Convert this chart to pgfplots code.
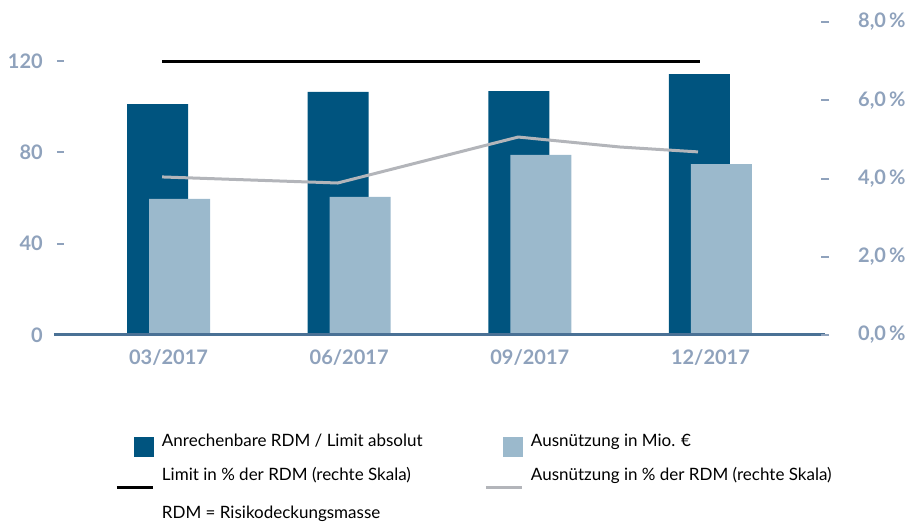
\documentclass[border=0pt]{standalone}
\usepackage{pgfplots}
\pgfplotsset{compat=1.18}
\usepackage{fontspec}
\setmainfont{Lato}
\definecolor{darkbar}{HTML}{00547F}
\definecolor{lightbar}{HTML}{9BB9CC}
\definecolor{ticktxt}{HTML}{8FA2BC}
\definecolor{axiscol}{HTML}{4A7195}
\definecolor{grayline}{HTML}{B3B5BA}
\pgfplotsset{
  base/.style={
    at={(54pt,187pt)}, anchor=south west,
    scale only axis, width=771pt, height=313pt,
    xmin=-0.634, xmax=3.634,
    /pgf/number format/assume math mode=true,
    yticklabel style={font=\bfseries\fontsize{20}{20}\selectfont, text=ticktxt, inner sep=0pt},
    xticklabel style={font=\bfseries\fontsize{20}{20}\selectfont, text=ticktxt, inner sep=0pt},
  }
}
\begin{document}
\begin{tikzpicture}
\useasboundingbox (0pt,0pt) rectangle (910pt,522pt);
\begin{axis}[base,
  ymin=0, ymax=137.14,
  axis x line*=bottom, axis y line*=left,
  x axis line style={draw=axiscol, line width=3pt, -},
  y axis line style={draw=none},
  xtick={0,1,2,3}, xticklabels={03/2017,06/2017,09/2017,12/2017},
  xtick style={draw=none},
  xticklabel style={yshift=-14pt},
  ytick={0,40,80,120},
  ytick style={draw=ticktxt, line width=2pt, xshift=3pt},
  tick align=inside, major tick length=7pt,
  yticklabel style={xshift=-11pt},
  axis on top,
]
\addplot[ybar, bar width=61pt, bar shift=-11pt, fill=darkbar, draw=none, forget plot]
  coordinates {(0,101.2) (1,106.5) (2,106.9) (3,114.3)};
\addplot[ybar, bar width=61pt, bar shift=11pt, fill=lightbar, draw=none, forget plot]
  coordinates {(0,59.6) (1,60.5) (2,78.9) (3,74.9)};
\end{axis}
\begin{axis}[base,
  ymin=0, ymax=8,
  axis x line=none, axis y line*=right,
  y axis line style={draw=none},
  ytick={0,2,4,6,8},
  ytick style={draw=ticktxt, line width=2pt},
  tick align=center, major tick length=8pt,
  yticklabel={\pgfmathprintnumber[fixed,fixed zerofill,precision=1,use comma]{\tick}\hspace{3pt}\%},
  yticklabel style={xshift=29pt},
  legend columns=2,
  legend cell align=left,
  legend style={at={(0.0817,-0.3217)}, anchor=north west, draw=none, fill=none,
    inner sep=0pt, outer sep=0pt, row sep=20pt, column sep=0pt,
    font=\fontsize{17}{17}\selectfont,
    nodes={inner sep=0pt, text height=11pt, text depth=3pt}},
]
\addlegendimage{legend image code/.code={\path[draw=none,fill=none] (0pt,-7pt) rectangle (45pt,7pt); \fill[darkbar, overlay] (17pt,-13.5pt) rectangle (36pt,5.5pt);}}
\addlegendentry{\makebox[324pt][l]{Anrechenbare RDM / Limit absolut}}
\addlegendimage{legend image code/.code={\path[draw=none,fill=none] (0pt,-7pt) rectangle (45pt,7pt); \fill[lightbar, overlay] (17pt,-13.5pt) rectangle (36pt,5.5pt);}}
\addlegendentry{Ausnützung in Mio. €}
\addplot[black, line width=3pt,
  legend image code/.code={\path[draw=none,fill=none] (0pt,-11pt) rectangle (45pt,7pt); \draw[black, line width=3pt, overlay] (0pt,-11pt) -- (36pt,-11pt);}]
  coordinates {(-0.036,6.98) (2.942,6.98)};
\addlegendentry{\makebox[324pt][l]{Limit in \% der RDM (rechte Skala)}}
\addplot[grayline, line width=3pt,
  legend image code/.code={\path[draw=none,fill=none] (0pt,-11pt) rectangle (45pt,7pt); \draw[grayline, line width=3pt, overlay] (0pt,-11pt) -- (36pt,-11pt);}]
  coordinates {(-0.036,4.04) (0.936,3.885) (1.936,5.06) (2.499,4.805) (2.931,4.68)};
\addlegendentry{Ausnützung in \% der RDM (rechte Skala)}
\addlegendimage{empty legend}
\addlegendentry{RDM = Risikodeckungsmasse}
\end{axis}
\end{tikzpicture}
\end{document}
